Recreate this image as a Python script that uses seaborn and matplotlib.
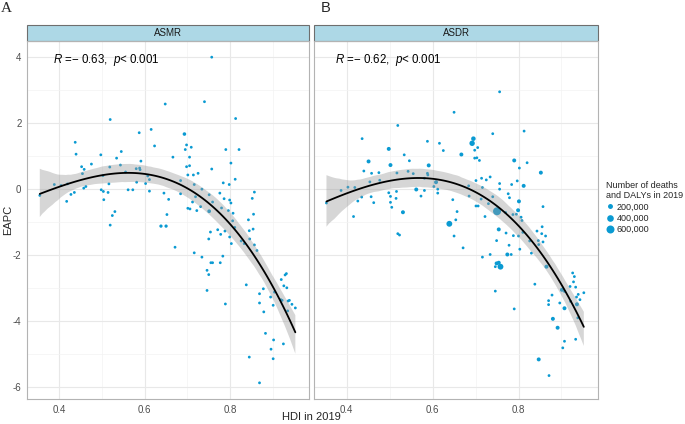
import numpy as np
import pandas as pd
import matplotlib
matplotlib.use('Agg')
import matplotlib.pyplot as plt
from matplotlib.patches import Rectangle
from matplotlib.lines import Line2D
from matplotlib.ticker import MultipleLocator
import seaborn as sns

# ---- ASMR panel (A): HDI, EAPC, deaths (thousands) ----
asmr_hdi = [0.354, 0.388, 0.404, 0.419, 0.437, 0.439, 0.417, 0.427, 0.435, 0.452,
            0.458, 0.454, 0.475, 0.462, 0.457, 0.497, 0.502, 0.498, 0.503, 0.514,
            0.504, 0.516, 0.518, 0.519, 0.530, 0.524, 0.519, 0.534, 0.545, 0.543,
            0.555, 0.561, 0.572, 0.580, 0.588, 0.589, 0.591, 0.587, 0.615, 0.623,
            0.581, 0.602, 0.607, 0.611, 0.611, 0.638, 0.650, 0.648,
            0.757, 0.740, 0.813, 0.693, 0.698, 0.695, 0.709, 0.666, 0.705, 0.698,
            0.705, 0.790, 0.821, 0.757, 0.802, 0.701, 0.714, 0.725, 0.684, 0.716,
            0.734, 0.645, 0.684, 0.656, 0.784, 0.798, 0.812, 0.776, 0.751, 0.719,
            0.786, 0.799, 0.802, 0.857, 0.852, 0.712, 0.731, 0.759, 0.701, 0.706,
            0.722, 0.751, 0.780, 0.796, 0.807, 0.652, 0.855, 0.843, 0.806, 0.811,
            0.854, 0.845, 0.771, 0.754, 0.788, 0.778, 0.750, 0.799, 0.846, 0.803,
            0.826, 0.833, 0.857, 0.863, 0.671, 0.716, 0.734, 0.783,
            0.755, 0.759, 0.777, 0.746, 0.750, 0.746, 0.789, 0.838, 0.869, 0.878,
            0.869, 0.879, 0.895, 0.904, 0.901, 0.920, 0.926, 0.929, 0.932, 0.933,
            0.919, 0.922, 0.936, 0.939, 0.945, 0.953, 0.935, 0.883, 0.902, 0.896,
            0.901, 0.925, 0.845, 0.869]
asmr_eapc = [-0.20, 0.13, 0.10, 0.15, 1.41, 1.05, -0.38, -0.17, -0.11, 0.67,
             0.59, 0.46, 0.75, 0.07, 0.02, 1.03, 0.40, -0.03, -0.08, -0.11,
             -0.33, 0.15, 0.66, 2.10, -0.69, -0.81, -1.10, 0.93, 1.13, 0.72,
             0.51, -0.03, -0.03, 0.61, 0.63, 0.58, 0.84, 1.70, 1.80, 1.30,
             0.20, 0.16, 0.39, 0.28, -0.07, -1.13, -1.13, 2.57,
             3.99, 2.64, 2.13, 1.66, 1.33, 1.19, 1.26, 0.96, 0.96, 0.67,
             0.70, 1.19, 1.19, 0.60, 0.78, 0.42, 0.42, 0.47, 0.25, 0.13,
             -0.01, -0.13, -0.15, -0.32, 0.18, 0.13, 0.29, -0.13, -0.18, -0.24,
             -0.30, -0.34, -0.43, -0.10, -0.29, -0.40, -0.54, -0.40, -0.59, -0.61,
             -0.66, -0.68, -0.58, -0.66, -0.74, -0.78, -0.77, -0.94, -0.97, -1.17,
             -1.22, -1.27, -1.24, -1.31, -1.28, -1.38, -1.52, -1.46, -1.52, -1.66,
             -1.58, -1.66, -1.70, -1.87, -1.77, -1.94, -2.07, -2.04,
             -2.24, -2.24, -2.24, -2.47, -2.60, -3.08, -3.49, -2.91, -3.18, -3.03,
             -3.46, -3.73, -3.28, -3.13, -3.53, -2.75, -2.94, -2.61, -2.57, -3.00,
             -3.36, -3.38, -3.40, -3.38, -3.50, -3.61, -3.70, -4.38, -4.58, -4.86,
             -5.15, -4.70, -5.10, -5.88]
asmr_deaths_k = [30, 30, 30, 30, 30, 30, 30, 30, 30, 30,
                 30, 30, 30, 30, 30, 30, 30, 30, 30, 30,
                 30, 30, 30, 30, 30, 30, 30, 30, 30, 30,
                 30, 30, 30, 30, 30, 30, 30, 30, 30, 30,
                 30, 30, 30, 30, 30, 60, 60, 30,
                 30, 30, 30, 80, 30, 30, 30, 30, 30, 30,
                 30, 30, 30, 30, 30, 30, 30, 30, 30, 30,
                 30, 30, 30, 30, 30, 30, 30, 30, 30, 30,
                 30, 30, 30, 30, 30, 30, 30, 30, 30, 30,
                 30, 90, 30, 30, 30, 30, 30, 30, 30, 30,
                 30, 30, 30, 30, 30, 30, 30, 30, 30, 30,
                 30, 30, 30, 30, 30, 30, 30, 30,
                 30, 30, 30, 30, 30, 30, 30, 30, 30, 30,
                 30, 30, 30, 30, 30, 30, 30, 30, 30, 30,
                 30, 30, 30, 30, 30, 30, 30, 30, 30, 30,
                 30, 30, 30, 30]

# ---- ASDR panel (B): HDI, EAPC, DALYs (thousands) ----
asdr_hdi = [0.353, 0.387, 0.403, 0.419, 0.436, 0.451, 0.440, 0.458, 0.475, 0.454,
            0.477, 0.435, 0.426, 0.457, 0.463, 0.416, 0.498, 0.502, 0.498, 0.516,
            0.502, 0.515, 0.502, 0.505, 0.531, 0.519, 0.517, 0.534, 0.546, 0.543,
            0.555, 0.519, 0.523, 0.562, 0.573, 0.581, 0.588, 0.591, 0.588, 0.589,
            0.581, 0.603, 0.608, 0.612, 0.612, 0.616, 0.625, 0.650, 0.647, 0.657,
            0.654, 0.639, 0.650,
            0.756, 0.740, 0.813, 0.695, 0.692, 0.698, 0.705, 0.698, 0.709, 0.703,
            0.667, 0.790, 0.820, 0.802, 0.852, 0.714, 0.725, 0.734, 0.701, 0.756,
            0.756, 0.784, 0.797, 0.812, 0.684, 0.716, 0.776, 0.779, 0.685, 0.713,
            0.740, 0.701, 0.706, 0.730, 0.801, 0.857, 0.750, 0.770, 0.787, 0.795,
            0.799, 0.722, 0.806, 0.808, 0.754, 0.771, 0.788, 0.800, 0.810, 0.843,
            0.855, 0.854, 0.863, 0.749, 0.778, 0.826, 0.846, 0.857, 0.847, 0.803,
            0.830, 0.671, 0.716, 0.734, 0.774, 0.783,
            0.749, 0.754, 0.758, 0.746, 0.746, 0.790, 0.838, 0.865, 0.926, 0.930,
            0.928, 0.920, 0.933, 0.901, 0.907, 0.939, 0.935, 0.952, 0.878, 0.870,
            0.870, 0.896, 0.921, 0.943, 0.936, 0.907, 0.938, 0.880, 0.891, 0.907,
            0.933, 0.903, 0.847, 0.871]
asdr_eapc = [-0.43, -0.05, 0.05, 0.04, 1.52, 0.83, 0.54, 0.47, 0.49, 0.21,
             0.26, -0.25, -0.37, -0.24, -0.42, -0.84, 1.21, 0.72, -0.12, -0.08,
             -0.23, -0.29, -0.41, -0.56, -0.71, 1.92, 0.48, 1.03, 0.85, 0.53,
             0.46, -1.36, -1.40, -0.02, -0.22, -0.05, 1.44, 0.71, 0.47, 0.42,
             0.32, 0.07, 0.20, -0.01, -0.13, 1.38, 1.16, 2.32, -0.33, -0.69,
             -0.94, -1.06, -1.43,
             2.94, 1.67, 1.75, 1.52, 1.38, 1.17, 1.25, 0.93, 0.86, 0.94,
             1.04, 0.86, 0.79, 0.63, 0.49, 0.32, 0.27, 0.36, 0.25, 0.16,
             -0.01, 0.13, 0.24, 0.09, 0.09, 0.04, -0.15, -0.27, -0.22, -0.31,
             -0.24, -0.52, -0.52, -0.45, -0.38, -0.54, -0.68, -0.72, -0.78, -0.77,
             -0.65, -0.84, -0.86, -0.96, -1.23, -1.34, -1.42, -1.43, -1.32, -1.28,
             -1.15, -1.36, -1.43, -1.57, -1.71, -1.58, -1.57, -1.61, -1.69, -1.83,
             -1.95, -1.79, -2.07, -1.99, -1.99, -1.99,
             -2.26, -2.24, -2.36, -2.36, -3.10, -3.64, -2.89, -2.36, -2.55, -2.66,
             -2.82, -2.96, -2.98, -3.06, -3.11, -3.20, -3.28, -3.15, -3.22, -3.39,
             -3.51, -3.46, -3.41, -3.36, -3.50, -3.62, -3.91, -3.94, -4.21, -4.62,
             -4.56, -4.82, -5.17, -5.66]
asdr_dalys_k = [30, 30, 30, 30, 30, 110, 30, 30, 30, 30,
                30, 30, 30, 30, 30, 30, 110, 110, 30, 30,
                30, 30, 30, 30, 110, 30, 30, 30, 30, 30,
                30, 30, 30, 110, 30, 30, 30, 110, 30, 30,
                30, 30, 110, 30, 30, 30, 30, 30, 30, 30,
                30, 300, 30,
                30, 30, 30, 160, 250, 30, 30, 30, 30, 30,
                110, 110, 30, 30, 110, 30, 30, 30, 30, 30,
                30, 30, 30, 110, 30, 30, 30, 30, 30, 30,
                30, 30, 30, 30, 110, 30, 600, 30, 30, 30,
                110, 30, 30, 30, 110, 30, 30, 30, 30, 30,
                30, 30, 30, 30, 30, 30, 30, 30, 30, 30,
                30, 30, 30, 30, 110, 30,
                110, 110, 300, 30, 30, 30, 30, 110, 30, 30,
                30, 30, 30, 110, 30, 30, 30, 30, 30, 30,
                30, 30, 30, 30, 110, 110, 30, 110, 110, 30,
                30, 30, 110, 30]

panel_titles = ['ASMR', 'ASDR']
cor_labels = [r'$\mathit{R}$ =$-$ 0.63,  $\mathit{p}$< 0.001',
              r'$\mathit{R}$ =$-$ 0.62,  $\mathit{p}$< 0.001']
legend_vals = [200000, 400000, 600000]
legend_labels = ['200,000', '400,000', '600,000']

df_a = pd.DataFrame({'hdi': asmr_hdi, 'eapc': asmr_eapc,
                     'n': np.array(asmr_deaths_k) * 1000})
df_b = pd.DataFrame({'hdi': asdr_hdi, 'eapc': asdr_eapc,
                     'n': np.array(asdr_dalys_k) * 1000})

sns.set_style('white')
plt.rcParams['font.family'] = ['Liberation Sans', 'DejaVu Sans']
plt.rcParams['axes.unicode_minus'] = False
plt.rcParams['mathtext.fontset'] = 'custom'
plt.rcParams['mathtext.rm'] = 'Liberation Sans'
plt.rcParams['mathtext.it'] = 'Liberation Sans:italic'

point_col = '#0A9AD2'
size_rng = (2.5, 33)
size_lim = (0, 600000)

fig = plt.figure(figsize=(6.85, 4.24), dpi=100)
ax1 = fig.add_axes([27/685, 25/424, 282/685, 358/424])
ax2 = fig.add_axes([314/685, 25/424, 284/685, 358/424], sharey=ax1)

for ax, df, title, lab, lx in [(ax1, df_a, panel_titles[0], cor_labels[0], 0.386),
                               (ax2, df_b, panel_titles[1], cor_labels[1], 0.374)]:
    sns.scatterplot(data=df, x='hdi', y='eapc', size='n', sizes=size_rng,
                    size_norm=size_lim, color=point_col, linewidth=0,
                    legend=False, ax=ax)
    sns.regplot(data=df, x='hdi', y='eapc', order=3, scatter=False, ci=95,
                n_boot=1000, seed=7, color='black',
                line_kws={'lw': 1.3}, ax=ax)
    # ggplot-like grey band drawn over the points
    for coll in ax.collections[1:]:
        coll.set_alpha(None)
        coll.set_facecolor((0.6, 0.6, 0.6, 0.4))
        coll.set_edgecolor('none')

    ax.set_xlim(0.324, 0.985)
    ax.set_ylim(-6.37, 4.48)
    ax.xaxis.set_major_locator(MultipleLocator(0.2))
    ax.xaxis.set_minor_locator(MultipleLocator(0.1))
    ax.yaxis.set_major_locator(MultipleLocator(2))
    ax.yaxis.set_minor_locator(MultipleLocator(1))
    ax.grid(which='major', color='#E8E8E8', lw=0.8)
    ax.grid(which='minor', color='#F3F3F3', lw=0.5)
    ax.set_axisbelow(True)
    for sp in ax.spines.values():
        sp.set_color('#B3B3B3')
        sp.set_linewidth(0.8)
    ax.tick_params(which='major', labelsize=7, labelcolor='#4D4D4D',
                   length=2, color='#B3B3B3', width=0.6, pad=2)
    ax.tick_params(which='minor', length=0)
    ax.set_xlabel('')
    ax.set_ylabel('')

    # facet strip
    ax.add_patch(Rectangle((0, 1), 1, 16/358, transform=ax.transAxes,
                           clip_on=False, fc='#ADD8E6', ec='#6E6E6E', lw=0.8))
    ax.text(0.5, 1 + 8/358, title, transform=ax.transAxes, ha='center',
            va='center', fontsize=7, color='#1A1A1A')
    ax.text(lx, 3.9, lab, fontsize=8.3, va='center', color='black')

ax2.tick_params(axis='y', labelleft=False, left=False)

fig.text(1/685, 1 - 8/424, 'A', family='Liberation Serif', fontsize=11,
         va='center', ha='left')
fig.text(321/685, 1 - 8/424, 'B', fontsize=10.5, va='center', ha='left')
fig.text(8/685, 1 - 220/424, 'EAPC', rotation=90, ha='center', va='center',
         fontsize=8)
fig.text(311/685, 7/424, 'HDI in 2019', ha='center', va='center', fontsize=8)

handles = [Line2D([], [], ls='', marker='o', color=point_col, markeredgewidth=0,
                  markersize=np.sqrt(size_rng[0] + (size_rng[1] - size_rng[0]) * v / size_lim[1]))
           for v in legend_vals]
fig.legend(handles, legend_labels, title='Number of deaths\nand DALYs in 2019',
           loc='upper left', bbox_to_anchor=(606/685, 1 - 181/424), frameon=False,
           fontsize=6.5, title_fontsize=6.5, alignment='left', handletextpad=0.4,
           labelspacing=0.25, borderaxespad=0, borderpad=0, handlelength=0.8)

fig.savefig('out.png', dpi=100)
